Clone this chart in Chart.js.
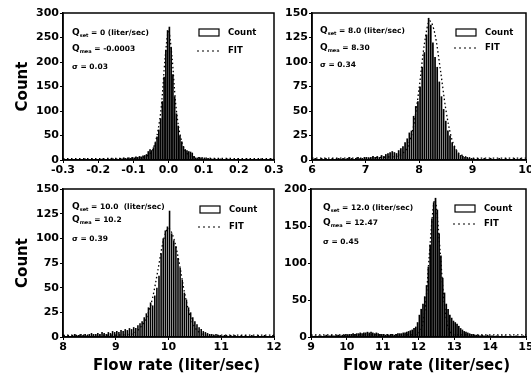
<!DOCTYPE html>
<html>
<head>
<meta charset="utf-8">
<script src="https://cdn.jsdelivr.net/npm/chart.js@4.4.1/dist/chart.umd.min.js"></script>
<style>
body{margin:0;background:#fff}
#cadre{position:relative;width:531px;height:381px;overflow:hidden}
canvas{position:absolute;left:0;top:0}
</style>
</head>
<body>
<div id="cadre">
<canvas id="c1" width="560" height="381"></canvas>
<canvas id="c2" width="560" height="381"></canvas>
<canvas id="c3" width="560" height="381"></canvas>
<canvas id="c4" width="560" height="381"></canvas>
</div>
<script>
// panneau 1 : Qset = 0
var xTicks1 = [-0.3,-0.2,-0.1,0,0.1,0.2,0.3]
var xLabels1 = ["-0.3","-0.2","-0.1","0.0","0.1","0.2","0.3"]
var yTicks1 = [0,50,100,150,200,250,300]
var debut1 = -0.3, pas1 = 0.005
var comptes1 = [1,0,2,1,0,1,2,1,0,1, 2,1,3,2,1,2,3,2,1,2, 1,2,3,2,1,3,2,4,3,2, 3,2,4,3,5,4,3,5,4,6,
  5,7,6,8,7,9,10,12, 18,22,20,26, 35,48,62,85, 120,170,225,265,
  272,230,175,130, 95,70,50,38, 28,22,20,18, 17,15,8,5, 4,6,5,3,
  5,3,4,2,3,2,3,1,2,3, 2,1,2,3,2,1,2,2,1,3, 2,1,2,1,3,2,1,2,1,2, 1,2,3,1,2,1,2,1,3,2]
var fitX1 = [-0.3,-0.2,-0.1,-0.08,-0.06,-0.05,-0.04,-0.03,-0.02,-0.01,0,0.01,0.02,0.03,0.04,0.05,0.06,0.08,0.1,0.2,0.3]
var fitY1 = [3,3,4,5,9,15,30,60,112,205,262,210,118,62,32,16,9,5,4,3,3]
var textes1 = [["Q","set"," = 0 (liter/sec)"],["Q","mea"," = -0.0003"],["","","\u03c3 = 0.03"]]

// panneau 2 : Qset = 8.0
var xTicks2 = [6,7,8,9,10]
var xLabels2 = ["6","7","8","9","10"]
var yTicks2 = [0,25,50,75,100,125,150]
var debut2 = 6, pas2 = 0.04
var comptes2 = [1,2,1,1,2,1,2,1,1,2, 1,2,2,1,2,1,2,3,2,1, 2,3,2,2,3,
  3,2,3,4,3,4,3,5,4,6, 7,8,9,8,7,10,12,14,18,22,
  28,30,45,55,60, 75,95,110,128,145, 138,120,105,95,80, 65,52,40,30,25, 18,14,10,7,5, 4,3,3,2,2,
  2,1,2,1,1,2,1,1,2,1, 1,1,2,1,1,2,1,1,1,2, 1,1,2,1,1]
var fitX2 = [6,6.5,7,7.4,7.6,7.7,7.8,7.9,8.0,8.1,8.2,8.3,8.4,8.5,8.6,8.7,8.8,9,9.5,10]
var fitY2 = [2,2,2,3,4,7,15,35,72,118,142,128,92,52,24,10,5,2,2,2]
var textes2 = [["Q","set"," = 8.0 (liter/sec)"],["Q","mea"," = 8.30"],["","","\u03c3 = 0.34"]]

// panneau 3 : Qset = 10.0
var xTicks3 = [8,9,10,11,12]
var xLabels3 = ["8","9","10","11","12"]
var yTicks3 = [0,25,50,75,100,125,150]
var debut3 = 8, pas3 = 0.04
var comptes3 = [2,1,2,1,2,3,2,2,3,2, 3,2,3,4,3,3,4,3,5,4, 3,5,4,6,5,
  6,5,7,6,8,7,9,8,10,9, 12,14,16,20,24, 30,35,32,42,50, 62,85,100,108,112,
  128,105,98,92,80, 70,58,45,38,30, 25,20,16,13,10, 8,6,5,4,3,
  3,2,3,2,2,1,2,2,1,2, 1,2,1,1,2,1,2,1,1,2, 1,1,2,1,1,2,1,1,1,2]
var fitX3 = [8,8.5,9,9.3,9.4,9.5,9.6,9.7,9.8,9.9,10.0,10.1,10.2,10.3,10.4,10.5,10.6,10.7,11,11.5,12]
var fitY3 = [2,2,2,3,6,12,22,40,68,97,110,100,76,46,23,10,4,2,2,2,2]
var textes3 = [["Q","set"," = 10.0  (liter/sec)"],["Q","mea"," = 10.2"],["","","\u03c3 = 0.39"]]

// panneau 4 : Qset = 12.0
var xTicks4 = [9,10,11,12,13,14,15]
var xLabels4 = ["9","10","11","12","13","14","15"]
var yTicks4 = [0,50,100,150,200]
var debut4 = 9, pas4 = 0.05
var comptes4 = [2,1,2,1,2,2,1,2,3,2, 2,3,2,2,3,3,2,3,3,4,
  3,4,4,5,4,5,5,6,5,6, 6,7,6,7,6,5,6,5,4,4,
  4,3,4,3,4,4,3,4,5,5, 5,6,6,7,8,9,10,12,14,20,
  30,38,45,55,70,95,125,160,182,188, 172,140,110,80,60,45,38,30,26,22,
  20,18,15,12,10,8,7,6,5,4,
  4,3,3,3,2,3,2,2,3,2, 2,2,1,2,2,1,2,1,2,1, 1,2,1,1,2,1,1,1,2,1]
var fitX4 = [9,10,11,11.8,11.9,12.0,12.1,12.2,12.3,12.4,12.45,12.5,12.6,12.7,12.8,12.9,13.0,13.2,14,15]
var fitY4 = [3,3,3,3,3,5,15,45,110,170,185,175,118,55,18,6,3,3,3,3]
var textes4 = [["Q","set"," = 12.0 (liter/sec)"],["Q","mea"," = 12.47"],["","","\u03c3 = 0.45"]]

var titreY = "Count"
var titreX = "Flow rate (liter/sec)"
var legende = ["Count","FIT"]

var police = "'DejaVu Sans', 'Liberation Sans', Arial, sans-serif"
Chart.defaults.font.family = police
Chart.defaults.font.weight = "bold"
Chart.defaults.color = "#000"

function barres(debut, pas, comptes){
	var pts = []
	for(var i=0;i<comptes.length;i++){
		pts.push({x: debut + pas*(i+0.5), y: comptes[i]})
	}
	return pts
}
function courbe(xs, ys){
	var pts = []
	for(var i=0;i<xs.length;i++){
		pts.push({x: xs[i], y: ys[i]})
	}
	return pts
}

function ecrire(ctx, x, y, ligne){
	var px = x
	if(ligne[0]){
		ctx.font = "bold 9px " + police
		ctx.fillText(ligne[0], px, y)
		px += ctx.measureText(ligne[0]).width
		ctx.font = "bold 5px " + police
		ctx.fillText(ligne[1], px, y + 3)
		px += ctx.measureText(ligne[1]).width
	}
	ctx.font = "bold 7.5px " + police
	ctx.fillText(ligne[2], px, y)
}

function panneau(p){
	var deco = {
		id: "deco_" + p.id,
		afterDraw: function(chart){
			var ctx = chart.ctx, a = chart.chartArea
			ctx.save()
			ctx.strokeStyle = "#000"
			ctx.fillStyle = "#000"
			ctx.lineWidth = 1.5
			ctx.strokeRect(a.left, a.top, a.right - a.left, a.bottom - a.top)
			ctx.textBaseline = "middle"
			ctx.textAlign = "left"
			for(var i=0;i<p.textes.length;i++){
				ecrire(ctx, a.left + p.txtX, a.top + p.txtY[i], p.textes[i])
			}
			// legende
			var lx = a.left + p.legX, ly = a.top + p.legY
			ctx.lineWidth = 1.2
			ctx.strokeRect(lx, ly, 20, 7)
			ctx.font = "bold 8.5px " + police
			ctx.fillText(legende[0], lx + 29, ly + 3.5)
			ctx.setLineDash([2,3])
			ctx.beginPath()
			ctx.moveTo(lx - 2, ly + p.fitDy)
			ctx.lineTo(lx + 21, ly + p.fitDy)
			ctx.stroke()
			ctx.setLineDash([])
			ctx.fillText(legende[1], lx + 29, ly + p.fitDy)
			// titres
			ctx.font = "bold 15px " + police
			ctx.textAlign = "center"
			if(p.avecY){
				ctx.save()
				ctx.translate(23, (a.top + a.bottom)/2)
				ctx.rotate(-Math.PI/2)
				ctx.fillText(titreY, 0, 0)
				ctx.restore()
			}
			if(p.avecX){
				ctx.fillText(titreX, (a.left + a.right)/2 + 8, 366)
			}
			ctx.restore()
		}
	}
	new Chart(p.id, {
		type: "bar",
		data: {datasets: [
			{type: "line", data: courbe(p.fitX, p.fitY), borderColor: "#000", borderWidth: 1.3,
				borderDash: [1.5,2.5], pointRadius: 0, fill: false, cubicInterpolationMode: "monotone", order: 0},
			{data: barres(p.debut, p.pas, p.comptes), backgroundColor: "#000", borderWidth: 0,
				barPercentage: p.plein, categoryPercentage: 1, grouped: false, order: 1}
		]},
		plugins: [deco],
		options: {
			responsive: false,
			animation: false,
			events: [],
			devicePixelRatio: 1,
			layout: {padding: {left: p.gauche, top: p.haut, right: 560 - p.droite, bottom: 381 - p.bas - p.hx}},
			plugins: {legend: {display: false}, tooltip: {enabled: false}},
			scales: {
				x: {
					type: "linear", min: p.xTicks[0], max: p.xTicks[p.xTicks.length-1],
					offset: false,
					afterBuildTicks: function(ax){ ax.ticks = p.xTicks.map(function(v){ return {value: v} }) },
					afterFit: function(ax){ ax.height = p.hx },
					ticks: {callback: function(v, i){ return p.xLabels[i] }, maxRotation: 0, autoSkip: false,
						padding: 1, font: {size: 11, weight: "bold"}},
					grid: {offset: false, drawOnChartArea: false, tickLength: 3, color: "#000"},
					border: {color: "#000", width: 1.5}
				},
				y: {
					min: 0, max: p.yTicks[p.yTicks.length-1],
					afterBuildTicks: function(ax){ ax.ticks = p.yTicks.map(function(v){ return {value: v} }) },
					afterFit: function(ax){ ax.width = p.ly },
					ticks: {padding: 1, font: {size: 11, weight: "bold"}},
					grid: {drawOnChartArea: false, tickLength: 3, color: "#000"},
					border: {color: "#000", width: 1.5}
				}
			}
		}
	})
}

panneau({id: "c1", gauche: 0, ly: 63, haut: 13, droite: 274, bas: 160, hx: 20,
	xTicks: xTicks1, xLabels: xLabels1, yTicks: yTicks1, debut: debut1, pas: pas1, comptes: comptes1,
	fitX: fitX1, fitY: fitY1, plein: 0.95, textes: textes1, txtX: 9, txtY: [20,36,54],
	legX: 136, legY: 16, fitDy: 22, avecY: true, avecX: false})
panneau({id: "c2", gauche: 277, ly: 35, haut: 13, droite: 526, bas: 160, hx: 20,
	xTicks: xTicks2, xLabels: xLabels2, yTicks: yTicks2, debut: debut2, pas: pas2, comptes: comptes2,
	fitX: fitX2, fitY: fitY2, plein: 0.8, textes: textes2, txtX: 8, txtY: [18,35,52],
	legX: 144, legY: 16, fitDy: 19, avecY: false, avecX: false})
panneau({id: "c3", gauche: 0, ly: 63, haut: 189, droite: 274, bas: 337, hx: 44,
	xTicks: xTicks3, xLabels: xLabels3, yTicks: yTicks3, debut: debut3, pas: pas3, comptes: comptes3,
	fitX: fitX3, fitY: fitY3, plein: 0.75, textes: textes3, txtX: 9, txtY: [18,31,50],
	legX: 137, legY: 17, fitDy: 21, avecY: true, avecX: true})
panneau({id: "c4", gauche: 276, ly: 35, haut: 189, droite: 526, bas: 337, hx: 44,
	xTicks: xTicks4, xLabels: xLabels4, yTicks: yTicks4, debut: debut4, pas: pas4, comptes: comptes4,
	fitX: fitX4, fitY: fitY4, plein: 0.95, textes: textes4, txtX: 12, txtY: [19,34,53],
	legX: 144, legY: 16, fitDy: 19, avecY: false, avecX: true})
</script>
</body>
</html>
